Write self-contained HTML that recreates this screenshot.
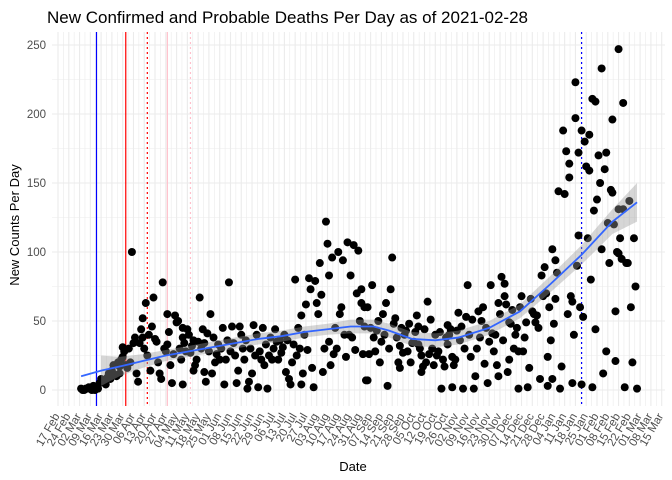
<!DOCTYPE html>
<html><head><meta charset="utf-8"><style>
body{margin:0;background:#fff;}
svg{display:block;font-family:"Liberation Sans",sans-serif;}
</style></head><body>
<svg id="chart" width="672" height="480" viewBox="0 0 672 480" xmlns="http://www.w3.org/2000/svg">
<rect width="672" height="480" fill="#fff"/>
<text x="47" y="23" font-size="17" fill="#000">New Confirmed and Probable Deaths Per Day as of 2021-02-28</text>
<text transform="translate(19,225) rotate(-90)" text-anchor="middle" font-size="13" fill="#000">New Counts Per Day</text>
<text x="353" y="471" text-anchor="middle" font-size="13" fill="#000">Date</text>
<g id="grid"></g><g id="vlines"></g><g id="pts"></g><g id="smooth"></g><g id="axes"></g>
</svg>
<script>
// day offsets from 2020-02-17
const pointDays=[15,17,19,22,24,26,28,30,31,32,34,38,40,40,42,42,45,48,49,50,51,52,53,55,55,57,58,60,61,62,63,65,66,67,68,69,71,71,74,76,77,80,81,81,81,84,87,88,88,90,92,95,95,96,97,99,100,105,108,111,113,116,118,123,126,127,128,130,132,136,139,142,145,148,149,151,154,155,158,158,159,162,163,164,165,166,167,168,170,171,172,173,174,175,176,176,178,179,182,183,185,186,187,188,190,192,193,195,197,197,199,199,200,201,201,202,204,207,209,211,213,214,216,217,219,222,222,224,226,230,233,234,234,236,236,237,240,242,243,244,246,248,249,251,253,253,256,256,257,259,260,263,264,265,266,268,269,270,271,273,274,277,279,281,282,285,286,286,288,290,290,292,293,293,298,299,299,301,303,304,305,306,307,308,310,311,313,314,315,316,318,318,321,321,323,323,324,325,326,327,328,329,330,332,332,334,334,336,336,338,338,340,340,341,342,343,345,345,347,347,349,349,350,351,353,353,354,356,356,357,358,360,360,362,362,364,364,364,367,367,368,369,370,371,373,375,376];
const pointVals=[1,0,1,0,0,1,8,6,4,9,8,10,12,17,31,24,16,100,34,38,12,6,34,52,38,63,25,14,46,67,37,20,12,8,78,30,55,33,5,54,49,22,45,38,4,44,32,36,14,22,67,34,13,6,41,55,12,22,4,78,46,5,46,1,12,47,25,2,22,1,22,35,27,13,36,4,80,25,54,4,12,29,81,73,16,2,79,63,92,69,13,30,122,106,83,35,96,26,100,55,94,40,24,107,83,105,29,101,73,63,46,60,7,60,7,26,76,43,20,55,63,3,73,96,52,32,16,27,43,34,54,46,33,13,25,17,64,51,30,18,25,42,1,17,47,33,2,24,18,43,56,1,30,53,76,24,51,1,10,57,38,19,5,76,41,18,63,10,82,77,68,13,49,22,45,1,28,68,38,49,2,16,66,57,49,54,8,83,68,89,24,3,102,8,94,66,85,144,1,17,188,142,173,164,154,5,64,223,197,112,172,4,188,53,180,162,185,159,211,2,209,44,138,170,233,102,12,28,172,121,92,196,143,57,21,247,131,99,208,131,2,92,92,137,20,75,1];
// additional readings (dense clusters)
const extraDays=[16,18,20,21,23,25,27,29,33,35,36,37,39,41,43,44,46,47,54,56,59,64,70,72,73,75,78,79,82,83,85,86,89,91,93,94,98,101,102,103,104,106,107,109,110,112,114,115,117,119,120,121,122,124,125,129,131,133,134,135,137,138,140,141,143,144,146,147,150,152,153,156,157,160,161,169,177,180,181,184,189,191,194,196,198,203,205,206,208,210,212,215,218,220,221,223,225,227,228,229,231,232,235,238,239,241,245,247,250,252,254,255,258,261,262,267,272,275,276,278,280,283,284,287,289,291,294,295,296,297,300,302,309,312,317,319,320,322,331,333,335,337,339,344,346,348,352,355,359,361,363,365,366,372,374];
const extraVals=[0,1,2,1,3,2,5,7,12,14,18,11,20,22,28,18,30,20,44,30,40,35,28,42,18,26,50,30,34,28,40,27,18,35,30,44,28,38,20,26,33,30,45,22,36,28,34,25,14,40,30,22,36,6,30,40,28,45,18,33,25,38,30,44,22,36,31,40,8,20,33,45,30,40,62,55,18,45,30,60,40,38,70,50,26,45,38,28,50,35,40,30,48,38,20,45,40,28,48,20,35,42,30,44,20,26,40,28,22,38,40,44,22,36,46,40,30,50,60,45,35,28,40,55,36,62,48,58,30,40,60,28,55,45,70,60,36,48,55,68,40,90,60,110,80,130,150,160,145,120,100,110,95,60,110];

const smoothDays=[15,28,40,55,70,85,100,115,130,145,160,175,190,205,215,230,245,260,280,300,320,340,360,376];
const smoothVals=[10,14,17,21,25,28,31,34,37,39,42,44,46,46,43,37,36,38,45,57,77,98,122,136];
const smoothSE=[0,11,7,5,4,4,4,4,4,4,4,4,5,5,5,5,5,5,5,5,6,7,9,14];
const tickLabels=["17 Feb","24 Feb","02 Mar","09 Mar","16 Mar","23 Mar","30 Mar","06 Apr","13 Apr","20 Apr","27 Apr","04 May","11 May","18 May","25 May","01 Jun","08 Jun","15 Jun","22 Jun","29 Jun","06 Jul","13 Jul","20 Jul","27 Jul","03 Aug","10 Aug","17 Aug","24 Aug","31 Aug","07 Sep","14 Sep","21 Sep","28 Sep","05 Oct","12 Oct","19 Oct","26 Oct","02 Nov","09 Nov","16 Nov","23 Nov","30 Nov","07 Dec","14 Dec","21 Dec","28 Dec","04 Jan","11 Jan","18 Jan","25 Jan","01 Feb","08 Feb","15 Feb","22 Feb","01 Mar","08 Mar","15 Mar"];
const yTicks=[0,50,100,150,200,250];
const eventDays=[25,44,58,71,86,340];
const eventColors=["#0000ff","#ff0000","#ff0000","#ffc0cb","#ffc0cb","#0000ff"];
const eventDash=["","","2,3","","2,3","2,3"];

const NS="http://www.w3.org/2000/svg";
const X0=52,X1=665,Y0=32,Y1=406;
const xs=d=>58+1.54*d;
const ys=v=>390-1.38*v;
function mk(tag,attrs,parent){const e=document.createElementNS(NS,tag);for(const k in attrs)e.setAttribute(k,attrs[k]);parent.appendChild(e);return e;}
const grid=document.getElementById('grid');
const bg=mk('rect',{x:X0,y:Y0,width:X1-X0,height:Y1-Y0,fill:'#fff'},grid);


for(let v=0;v<=275;v+=25){const y=ys(v);if(y<Y0)continue;
 const l=mk('line',{x1:X0,x2:X1,y1:y,y2:y,stroke:'#ebebeb','stroke-width':v%50?0.6:1.1},grid);
 
 }
for(let d=0;d<=392;d+=3.5){const x=xs(d);
 const l=mk('line',{x1:x,x2:x,y1:Y0,y2:Y1,stroke:'#ebebeb','stroke-width':(d%7)?0.6:1.1},grid);
 
 }
const vl=document.getElementById('vlines');
eventDays.forEach((d,i)=>{const l=mk('line',{x1:xs(d),x2:xs(d),y1:Y0,y2:Y1,stroke:eventColors[i],'stroke-width':1.2},vl);
 if(eventDash[i])l.setAttribute('stroke-dasharray',eventDash[i]);
 
 });
const pts=document.getElementById('pts');
function drawPts(days,vals){days.forEach((d,i)=>{const c=mk('circle',{cx:xs(d),cy:ys(vals[i]),r:4,fill:'#000'},pts);
 
 });}
drawPts(pointDays,pointVals);
drawPts(extraDays,extraVals);
const sm=document.getElementById('smooth');
let up=[],lo=[];
smoothDays.forEach((d,i)=>{if(smoothSE[i]>0){up.push(xs(d)+','+ys(smoothVals[i]+smoothSE[i]));lo.unshift(xs(d)+','+ys(smoothVals[i]-smoothSE[i]));}});
const band=mk('polygon',{points:up.concat(lo).join(' '),fill:'#999','fill-opacity':0.4},sm);


const line=mk('polyline',{points:smoothDays.map((d,i)=>xs(d)+','+ys(smoothVals[i])).join(' '),fill:'none',stroke:'#3366ff','stroke-width':1.8},sm);


const ax=document.getElementById('axes');
yTicks.forEach(v=>{const t=mk('text',{x:46,y:ys(v)+4,'text-anchor':'end','font-size':11.5,fill:'#4d4d4d'},ax);t.textContent=v;
 
 });
tickLabels.forEach((s,i)=>{const x=xs(i*7)+2;const t=mk('text',{transform:`translate(${x},416) rotate(-60)`,'text-anchor':'end','font-size':11.5,fill:'#4d4d4d'},ax);t.textContent=s;
 
 });
</script>
</body></html>
